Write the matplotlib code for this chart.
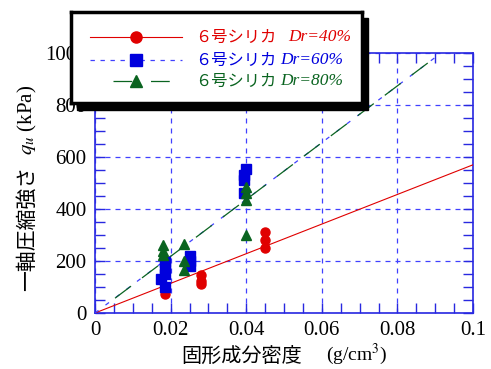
import matplotlib
matplotlib.use('Agg')
import matplotlib.pyplot as plt
from matplotlib.patches import Rectangle

plt.rcParams['mathtext.fontset'] = 'stix'

# データ (読み取り値)
red_x = [0.0185, 0.028, 0.028, 0.028, 0.045, 0.045, 0.045]
red_y = [75, 110, 125, 145, 250, 280, 310]
blue_x = [0.0175, 0.0185, 0.0185, 0.0185, 0.0185, 0.025, 0.025, 0.025, 0.0395, 0.0395, 0.0395, 0.040]
blue_y = [130, 100, 150, 175, 195, 180, 200, 220, 460, 510, 530, 555]
green_x = [0.018, 0.018, 0.018, 0.0235, 0.0235, 0.0235, 0.04, 0.04, 0.04, 0.04]
green_y = [225, 240, 260, 265, 200, 165, 300, 435, 460, 485]

# 近似直線
red_line_x = [0, 0.1]
red_line_y = [0, 570]
blue_line_x = [0, 0.09]
blue_line_y = [0, 983]
green_line_x = [0.0053, 0.09]
green_line_y = [57, 983]

labels = ['６号シリカ', '６号シリカ', '６号シリカ']
dr_labels = ['Dr=40%', 'Dr=60%', 'Dr=80%']

RED = '#e00000'
BLUE = '#0000dd'
LBLUE = '#4040ff'
GREEN = '#0a6420'
SPINE = '#2828e0'
JP = ['Noto Sans CJK JP', 'DejaVu Sans']
SERIF = 'Liberation Serif'

fig = plt.figure(figsize=(4.91, 3.69), dpi=100)
ax = fig.add_axes([95/491, 1-313/369, 378/491, 260/369])
ax.set_zorder(0)

ax.plot(red_line_x, red_line_y, color=RED, lw=0.8, zorder=3)
ax.plot(blue_line_x, blue_line_y, color=LBLUE, lw=0.9, dashes=(3.5, 7), zorder=3)
ax.plot(green_line_x, green_line_y, color=GREEN, lw=0.9, dashes=(16, 11), zorder=3)

ax.plot(red_x, red_y, 'o', color=RED, ms=6.5, mec=RED, zorder=4)
ax.plot(blue_x, blue_y, 's', color=BLUE, ms=6.5, mec=BLUE, zorder=5)
ax.plot(green_x, green_y, '^', color=GREEN, ms=7.5, mec=GREEN, zorder=6)

ax.set_xlim(0, 0.1)
ax.set_ylim(0, 1000)
ax.set_xticks([0, 0.02, 0.04, 0.06, 0.08, 0.1])
ax.set_xticklabels(['0', '0.02', '0.04', '0.06', '0.08', '0.1'])
ax.set_xticks([i * 0.005 for i in range(21)], minor=True)
ax.set_yticks([0, 200, 400, 600, 800, 1000])
ax.set_yticks(range(0, 1001, 50), minor=True)
ax.tick_params(which='both', direction='in', top=True, right=True,
               length=7, width=1, color=SPINE, labelsize=15, pad=6)
for lab in ax.get_xticklabels() + ax.get_yticklabels():
    lab.set_fontfamily(SERIF)
for s in ax.spines.values():
    s.set_color(SPINE)
    s.set_linewidth(1.2)
ax.grid(True, which='major', color=LBLUE, lw=0.9, dashes=(4, 4))

# 軸ラベル
fig.text(27/491, 1-228/369, '一軸圧縮強さ', rotation=90, ha='center', va='center',
         fontsize=15, family=JP)
fig.text(27/491, 1-120/369, r'$q_u$ (kPa)', rotation=90, ha='center', va='center',
         fontsize=15, family=SERIF)
fig.text(242/491, 1-356/369, '固形成分密度', ha='center', va='center',
         fontsize=14.5, family=JP)
fig.text(357/491, 1-354/369, '(g/cm$^3$)', ha='center', va='center',
         fontsize=14, family=SERIF)

# 凡例 (影付きの枠)
shadow = Rectangle((77/491, 1-110/369), 291/491, 92/369, transform=fig.transFigure,
                   facecolor='black', edgecolor='black', zorder=5)
fig.patches.append(shadow)
lax = fig.add_axes([71/491, 1-103/369, 291/491, 91/369])
lax.set_zorder(10)
lax.set_xlim(0, 291)
lax.set_ylim(91, 0)
lax.set_xticks([])
lax.set_yticks([])
for s in lax.spines.values():
    s.set_color('black')
    s.set_linewidth(2.5)

rows = [25, 48, 69]
lax.plot([19, 111], [rows[0], rows[0]], color=RED, lw=0.8)
lax.plot([65], [rows[0]], 'o', color=RED, ms=8)
lax.plot([19, 111], [rows[1], rows[1]], color=LBLUE, lw=0.9, dashes=(3.5, 4.5))
lax.plot([65], [rows[1]], 's', color=BLUE, ms=8)
lax.plot([42, 111], [rows[2], rows[2]], color=GREEN, lw=0.9, dashes=(15, 15))
lax.plot([65], [rows[2]], '^', color=GREEN, ms=8)

colors = [RED, BLUE, GREEN]
dr_pos = [217, 209, 209]
for r, lab, dr, c, dx in zip(rows, labels, dr_labels, colors, dr_pos):
    lax.text(124, r, lab, color=c, fontsize=11.7, family=JP, va='center')
    lax.text(dx, r, dr, color=c, fontsize=12.5, family=SERIF, style='italic', va='center')

fig.savefig('out.png', dpi=100)
